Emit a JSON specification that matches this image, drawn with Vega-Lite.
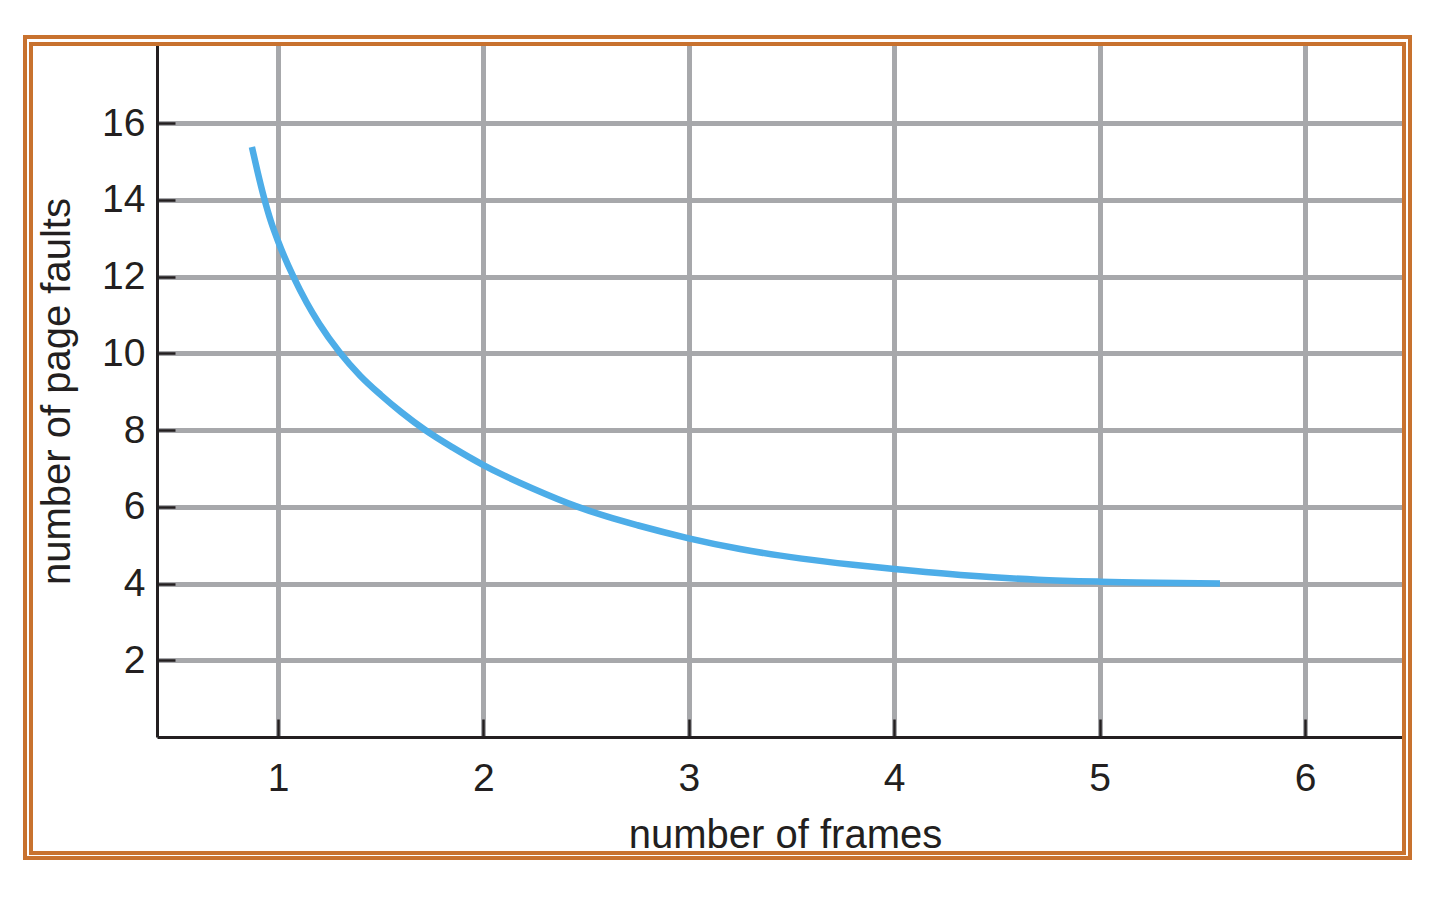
{
  "$schema": "https://vega.github.io/schema/vega-lite/v6.json",
  "width": 1246,
  "height": 692,
  "autosize": {"type": "none"},
  "padding": {"left": 157, "top": 45, "right": 43, "bottom": 165},
  "background": "white",
  "config": {
    "view": {"stroke": null},
    "font": "Liberation Sans",
    "axis": {
      "grid": true,
      "gridColor": "#a7a8ab",
      "gridWidth": 5,
      "gridOpacity": 1,
      "domainColor": "#231f20",
      "domainWidth": 3,
      "tickColor": "#231f20",
      "tickWidth": 2.5,
      "tickSize": -18,
      "labelFontSize": 39,
      "labelColor": "#231f20",
      "labelFont": "Liberation Sans",
      "titleFontSize": 40,
      "titleFontWeight": "normal",
      "titleColor": "#231f20",
      "titleFont": "Liberation Sans"
    }
  },
  "data": {
    "values": [
      {"frames": 0.873, "faults": 15.38},
      {"frames": 0.9, "faults": 14.75},
      {"frames": 0.93, "faults": 14.1},
      {"frames": 0.965, "faults": 13.45},
      {"frames": 1.0, "faults": 12.93},
      {"frames": 1.075, "faults": 12.0},
      {"frames": 1.14, "faults": 11.32},
      {"frames": 1.2, "faults": 10.78},
      {"frames": 1.3, "faults": 10.03},
      {"frames": 1.4, "faults": 9.42},
      {"frames": 1.5, "faults": 8.92},
      {"frames": 1.6, "faults": 8.47},
      {"frames": 1.72, "faults": 7.99},
      {"frames": 1.85, "faults": 7.55},
      {"frames": 2.0, "faults": 7.09},
      {"frames": 2.1, "faults": 6.82},
      {"frames": 2.24, "faults": 6.48},
      {"frames": 2.45, "faults": 6.02},
      {"frames": 2.6, "faults": 5.75},
      {"frames": 2.75, "faults": 5.52},
      {"frames": 3.0, "faults": 5.18},
      {"frames": 3.25, "faults": 4.9},
      {"frames": 3.55, "faults": 4.65},
      {"frames": 3.8, "faults": 4.49},
      {"frames": 4.0, "faults": 4.38},
      {"frames": 4.36, "faults": 4.21},
      {"frames": 4.7, "faults": 4.1},
      {"frames": 5.0, "faults": 4.05},
      {"frames": 5.18, "faults": 4.03},
      {"frames": 5.586, "faults": 4.0}
    ]
  },
  "layer": [
    {
      "mark": {"type": "line", "color": "#4dade8", "strokeWidth": 6.5, "interpolate": "monotone", "strokeCap": "butt"},
      "encoding": {
        "x": {
          "field": "frames", "type": "quantitative",
          "scale": {"domain": [0.411, 6.477], "nice": false, "zero": false},
          "axis": {"values": [1, 2, 3, 4, 5, 6], "title": "number of frames", "labelPadding": 40, "titlePadding": 17, "titleX": 628, "format": "d"}
        },
        "y": {
          "field": "faults", "type": "quantitative",
          "scale": {"domain": [0, 18.04], "nice": false, "zero": false},
          "axis": {"values": [2, 4, 6, 8, 10, 12, 14, 16], "title": "number of page faults", "labelPadding": 30, "titlePadding": 24, "format": "d"}
        }
      }
    },
    {
      "mark": {"type": "rect", "fill": null, "fillOpacity": 0, "stroke": "#c8722f", "strokeWidth": 3, "clip": false},
      "encoding": {
        "x": {"datum": -0.2318, "type": "quantitative"},
        "x2": {"datum": 6.511},
        "y": {"datum": 18.25, "type": "quantitative"},
        "y2": {"datum": -3.154}
      }
    },
    {
      "mark": {"type": "rect", "fill": null, "fillOpacity": 0, "stroke": "#c8722f", "strokeWidth": 3, "clip": false},
      "encoding": {
        "x": {"datum": -0.2025, "type": "quantitative"},
        "x2": {"datum": 6.482},
        "y": {"datum": 18.07, "type": "quantitative"},
        "y2": {"datum": -3.024}
      }
    }
  ]
}
